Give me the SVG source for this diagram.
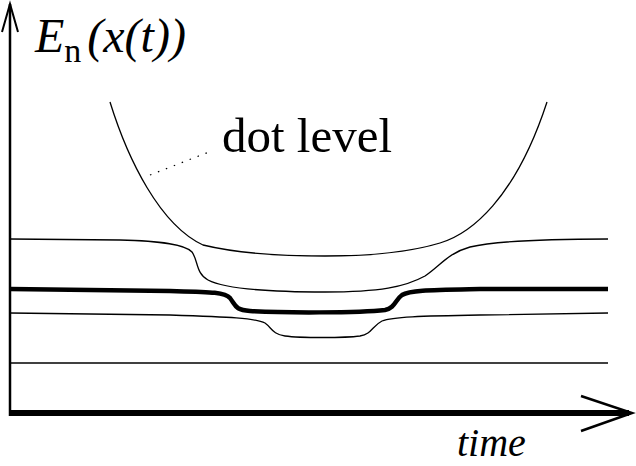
<svg xmlns="http://www.w3.org/2000/svg" width="636" height="466" viewBox="0 0 636 466">
<style>
.thin{fill:none;stroke:#000;stroke-width:1.3}
.thick{fill:none;stroke:#000;stroke-width:4.5}
.axis{fill:none;stroke:#000}
.lbl{fill:#000;font-family:'Liberation Serif','Times New Roman',Times,'DejaVu Serif','Noto Serif',serif}
.it{font-style:italic}
</style>
<rect width="636" height="466" fill="#fff"/>
<g id="axes">
<line class="axis" x1="10" y1="4" x2="10" y2="416" stroke-width="2.5"/>
<polyline class="axis" points="2,32 10,4 18,32" stroke-width="2"/>
<line class="axis" x1="9" y1="413" x2="629" y2="413" stroke-width="6"/>
<polyline class="axis" points="581,396 632,413 581,431" stroke-width="2.5"/>
</g>
<g id="levels">
<path id="dot-level" class="thin" d="M110,102 C128,160 160,225 203,245 C240,254 280,256 325,256 C370,256 410,252 440,243 C470,234 515,200 547,102"/>
<path id="level-a" class="thin" d="M10,239 L120,240 C160,241 185,244 192,252 C198,260 196,274 208,280 C225,289 270,292 325,292 C380,292 405,287 425,276 C440,266 448,253 470,247 C500,240 560,239 608,239"/>
<path id="level-thick" class="thick" d="M10,289 L170,291 C210,292 225,292 230,298 C236,306 235,310 250,311 C280,313 360,313 385,310 C395,308 395,300 402,295 C410,290 430,290 480,289 L608,289"/>
<path id="level-b" class="thin" d="M10,313 L170,315 C230,317 255,318 265,323 C272,328 272,334 285,336 C300,338 345,338 360,336 C372,334 372,326 382,321 C392,317 420,316 480,315 L608,313"/>
<line id="level-c" class="thin" x1="10" y1="363" x2="608" y2="363"/>
<line id="pointer" x1="150" y1="175" x2="209" y2="152" stroke="#000" stroke-width="1.2" stroke-dasharray="1.5,7"/>
</g>
<g id="labels">
<text class="lbl" x="35" y="52" font-size="48"><tspan class="it">E</tspan><tspan font-size="34" dy="10">n</tspan><tspan class="it" dy="-10" dx="6">(x(t))</tspan></text>
<text class="lbl" x="222" y="152" font-size="49">dot level</text>
<text class="lbl it" x="457" y="456" font-size="40">time</text>
</g>
</svg>
